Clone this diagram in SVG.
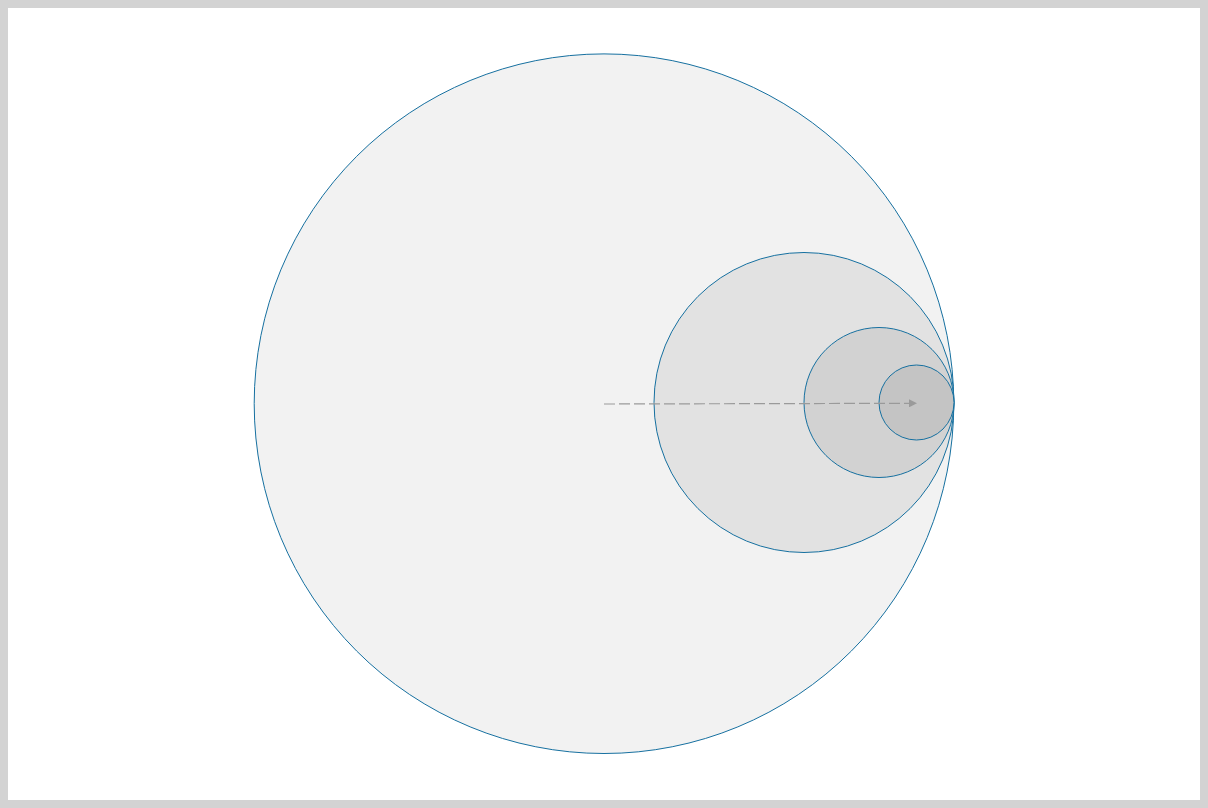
<svg xmlns="http://www.w3.org/2000/svg" width="1208" height="808" viewBox="0 0 1208 808">
<style>
.c{stroke:#1670a0;stroke-width:1}
.conn{stroke:#9a9a9a;stroke-width:1.2;stroke-dasharray:11,4;fill:none}
</style>
<defs>
<marker id="ah" viewBox="0 0 10 10" refX="10" refY="5" markerWidth="9" markerHeight="8" markerUnits="userSpaceOnUse" orient="auto">
<path d="M0,0 L10,5 L0,10 Z" fill="#9a9a9a"/>
</marker>
</defs>
<rect x="0" y="0" width="1208" height="808" fill="#ffffff"/>
<rect x="4" y="4" width="1200" height="800" fill="none" stroke="#d3d3d3" stroke-width="8"/>
<g id="circle1"><circle class="c" cx="604" cy="403.7" r="349.8" fill="#f2f2f2"/></g>
<g id="circle2"><circle class="c" cx="804" cy="402.5" r="150" fill="#e2e2e2"/></g>
<g id="circle3"><circle class="c" cx="879" cy="402.5" r="75" fill="#d2d2d2"/></g>
<g id="circle4"><circle class="c" cx="916.5" cy="402.5" r="37.5" fill="#c4c4c4"/></g>
<g id="connectors">
<line class="conn" x1="604" y1="404" x2="917" y2="403.3" marker-end="url(#ah)"/>
</g>
</svg>
